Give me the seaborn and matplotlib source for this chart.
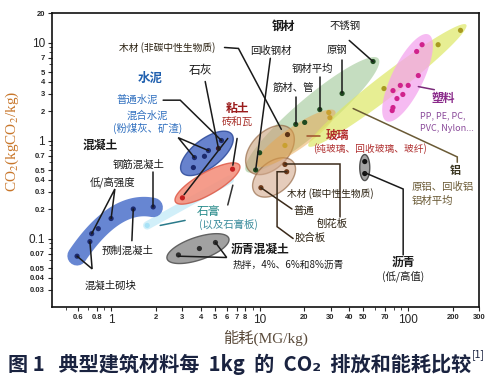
import numpy as np
import pandas as pd
import matplotlib
matplotlib.use('Agg')
import matplotlib.pyplot as plt
from matplotlib.ticker import NullFormatter
import seaborn as sns

# values: embodied energy (MJ/kg) and CO2 (kg/kg)
concrete_e = [0.59, 0.72, 0.74, 0.82, 1.0, 1.41, 1.92]
concrete_c = [0.066, 0.093, 0.112, 0.126, 0.16, 0.20, 0.21]
cement_e = [3.58, 3.64, 4.25, 4.52, 5.53]
cement_c = [0.53, 0.67, 0.69, 0.79, 1.0]
lime_e = [5.28]
lime_c = [0.83]
clay_e = [3.02, 6.57]
clay_c = [0.26, 0.51]
gypsum_e = [1.75, 6.3]
gypsum_c = [0.136, 0.40]
asph_conc_e = [2.84, 3.93, 5.04]
asph_conc_c = [0.068, 0.079, 0.091]
bitumen_e = [51, 51]
bitumen_c = [0.61, 0.46]
wood_ncn_e = [15.4]
wood_ncn_c = [1.15]
wood_cn_e = [14.8, 15.2, 10.2]
wood_cn_c = [0.57, 0.48, 0.33]
steel_e = [9.4, 10.0, 17.5, 20.1, 25.4, 35.9, 58.0]
steel_c = [0.50, 0.75, 1.46, 1.53, 2.07, 3.02, 6.4]
glass_e = [14.8, 29.2, 29.7]
glass_c = [0.89, 1.93, 1.71]
alu_e = [68.7, 159, 225]
alu_c = [3.39, 9.5, 13.3]
plastic_e = [124, 114, 117, 79, 88.5, 100, 92, 84, 79, 78]
plastic_c = [9.5, 8.1, 4.6, 3.23, 3.65, 3.65, 2.95, 2.68, 2.17, 2.02]

x_ticks = [0.6, 0.8, 1, 2, 3, 4, 5, 6, 7, 8, 10, 20, 30, 40, 50, 70, 100, 200, 300]
x_minor = [0.5, 0.7, 0.9, 9, 60, 80, 90]
y_ticks = [0.03, 0.04, 0.05, 0.07, 0.1, 0.2, 0.3, 0.4, 0.5, 0.7, 1, 2, 3, 4, 5, 7, 10, 20]
y_minor = [0.06, 0.08, 0.09, 0.6, 0.8, 0.9, 6, 8, 9]
big_labels = ['0.1', '1', '10', '100']

groups = {
    'concrete': (concrete_e, concrete_c, '#1c2a6e'),
    'cement': (cement_e, cement_c, '#1c2a6e'),
    'lime': (lime_e, lime_c, '#3a1c2c'),
    'clay': (clay_e, clay_c, '#c42020'),
    'gypsum': (gypsum_e[:1], gypsum_c[:1], '#a8e2f6'),
    'asph_conc': (asph_conc_e, asph_conc_c, '#2e2e2e'),
    'bitumen': (bitumen_e, bitumen_c, '#111111'),
    'wood_ncn': (wood_ncn_e, wood_ncn_c, '#5a3216'),
    'wood_cn': (wood_cn_e, wood_cn_c, '#6e3a1a'),
    'steel': (steel_e, steel_c, '#1f4a1f'),
    'glass': (glass_e, glass_c, '#c9a030'),
    'alu': (alu_e, alu_c, '#a89a20'),
    'plastic': (plastic_e, plastic_c, '#d0228c'),
}
rows = []
for g, (e, c, col) in groups.items():
    rows += [{'energy': a, 'co2': b, 'group': g} for a, b in zip(e, c)]
df = pd.DataFrame(rows)
palette = {g: v[2] for g, v in groups.items()}

sns.set_style('ticks')
plt.rcParams['font.family'] = ['Noto Sans CJK SC', 'DejaVu Sans']
plt.rcParams['mathtext.fontset'] = 'stix'

W, H = 4.98, 3.84
fig = plt.figure(figsize=(W, H), dpi=100)
pos = [0.1044, 0.2005, 0.8576, 0.7656]
ax = fig.add_axes(pos)
ax.set_xscale('log')
ax.set_yscale('log')
ax.set_xlim(0.4, 300)
ax.set_ylim(0.02, 20)

# pixels per decade, used to shape the regions in screen space
SX = pos[2] * W * 100 / np.log10(300 / 0.4)
SY = pos[3] * H * 100 / np.log10(20 / 0.02)


def blob(xs, ys, lo, hi, side, **kw):
    pts = np.column_stack([np.log10(xs) * SX, np.log10(ys) * SY])
    c = pts.mean(axis=0)
    d = pts - c
    if len(pts) > 1:
        _, vec = np.linalg.eigh(d.T @ d)
        e1 = vec[:, -1]
    else:
        e1 = np.array([1.0, 0.0])
    if e1[0] < -1e-9 or (abs(e1[0]) < 1e-9 and e1[1] < 0):
        e1 = -e1
    e2 = np.array([-e1[1], e1[0]])
    p1, p2 = d @ e1, d @ e2
    a0, a1 = p1.min() - lo, p1.max() + hi
    mid = c + e1 * (a0 + a1) / 2
    a, b = (a1 - a0) / 2, np.abs(p2).max() + side
    t = np.linspace(0, 2 * np.pi, 120)
    ring = mid + np.outer(a * np.cos(t), e1) + np.outer(b * np.sin(t), e2)
    ax.fill(10 ** (ring[:, 0] / SX), 10 ** (ring[:, 1] / SY), **kw)


# regions
blob(steel_e, steel_c, 8, 6, 12, color='#a7cc9e', alpha=0.65, lw=0, zorder=1)
blob(wood_ncn_e + steel_e[:2], wood_ncn_c + steel_c[:2], 5, 6, 13,
     fc='#c9a07a', ec='#8a5a34', alpha=0.6, lw=1, zorder=2)
blob(wood_cn_e, wood_cn_c, 8, 8, 12, fc='#d4aa8e', ec='#8a5a34', alpha=0.6, lw=1, zorder=2)
blob(glass_e, glass_c, 35, 6, 9, color='#e9a64c', alpha=0.5, lw=0, zorder=3)
blob(alu_e, alu_c, 95, 8, 10, color='#dde866', alpha=0.7, lw=0, zorder=3)
blob(plastic_e, plastic_c, 12, 12, 7, color='#f4a4ee', alpha=0.75, lw=0, zorder=4)
blob(cement_e + lime_e, cement_c + lime_c, 12, 12, 10, fc='#5674c8', ec='#33509e', alpha=0.9, lw=1, zorder=3)
blob(clay_e, clay_c, 8, 8, 11, fc='#f4917e', ec='#e0604e', alpha=0.9, lw=1, zorder=3)
blob(asph_conc_e, asph_conc_c, 12, 14, 11, fc='#9c9c9c', ec='#5c5c5c', alpha=0.95, lw=1, zorder=3)
blob(bitumen_e, bitumen_c, 7, 7, 5, fc='#a3a3a3', ec='#505050', lw=1, zorder=3)

# concrete band
lx, ly = np.log10(concrete_e), np.log10(concrete_c)
k = np.polyfit(lx, ly, 2)
bx = np.linspace(lx.min(), lx.max(), 60)
ax.plot(10 ** bx, 10 ** np.polyval(k, bx), color='#5a7ccf', lw=14, alpha=0.92,
        solid_capstyle='round', zorder=3)
# gypsum streak
ax.plot(gypsum_e, gypsum_c, color='#b3e5f6', lw=6, alpha=0.6, solid_capstyle='round', zorder=2)

sns.scatterplot(data=df, x='energy', y='co2', hue='group', palette=palette, s=14,
                linewidth=0, legend=False, ax=ax, zorder=6)


def lead(xs, ys, color='#1a1a1a', lw=1.1):
    ax.plot(xs, ys, color=color, lw=lw, zorder=7, solid_joinstyle='miter')


def lab(x, y, s, size=7.5, color='#1a1a1a', weight='normal', ha='center'):
    ax.text(x, y, s, fontsize=size, color=color, weight=weight, ha=ha, va='center', zorder=8)


# concrete
lab(0.84, 0.89, '混凝土', 8.5, weight='bold')
lab(1.52, 0.57, '钢筋混凝土')
lab(1.02, 0.38, '低/高强度')
lab(1.30, 0.0755, '预制混凝土')
lab(0.985, 0.0331, '混凝土砌块')
lead([1.92, 1.92], [0.48, 0.21])
lead([0.74, 1.06, 1.0], [0.112, 0.32, 0.16])
lead([1.41, 1.38], [0.2, 0.095])
lead([0.59, 0.745, 0.72], [0.066, 0.049, 0.093])
# cement / lime
lab(1.83, 4.29, '水泥', 9, '#1f5fae', 'bold')
lab(1.50, 2.62, '普通水泥', 7.5, '#2f6fbf')
lab(1.75, 1.80, '混合水泥', 7.5, '#2f6fbf')
lab(1.75, 1.33, '(粉煤灰、矿渣)', 7.5, '#2f6fbf')
lead([2.24, 2.92, 5.53], [2.58, 2.58, 1.0])
lead([3.64, 2.83, 4.52], [0.67, 1.07, 0.79])
lab(3.97, 5.18, '石灰', 8.5)
lead([4.3, 5.28], [4.0, 0.83])
# clay / gypsum
lab(7.05, 2.12, '粘土', 8.5, '#9b1c1c', 'bold')
lab(7.05, 1.56, '砖和瓦', 7.5, '#a8302a')
lead([7.05, 6.6], [1.05, 0.56])
lead([6.1, 3.1], [1.05, 0.28])
lab(4.5, 0.188, '石膏', 8.5, '#2a8c8c')
lab(6.13, 0.139, '(以及石膏板)', 7.5, '#3a8c9c')
lead([2.14, 3.15], [0.136, 0.153], '#2a7a8a')
lead([6.6, 6.1], [0.35, 0.22], '#333333')
# asphalt
lab(10.1, 0.077, '沥青混凝土', 8.5, weight='bold')
lab(15.6, 0.054, '热拌，4%、6%和8%沥青', 7)
lead([2.84, 6.0, 5.04], [0.066, 0.064, 0.091])
lab(92.5, 0.0569, '沥青', 8.5, weight='bold')
lab(92.5, 0.041, '(低/高值)', 7.5)
lead([51, 92.5, 92.5], [0.47, 0.32, 0.068])
# wood
lab(2.38, 8.9, '木材 (非碳中性生物质)', 7, '#2a2010')
lead([5.8, 7.2, 14.0], [8.9, 8.7, 1.3])
lab(29.9, 0.29, '木材 (碳中性生物质)', 7, '#2a2010')
lab(19.9, 0.193, '普通', 7.5, '#2a2010')
lab(30.8, 0.142, '刨花板', 7.5, '#2a2010')
lab(21.9, 0.102, '胶合板', 7.5, '#2a2010')
lead([10.2, 16.5], [0.33, 0.2], '#3a2a1a')
lead([14.8, 34.8, 34.8], [0.57, 0.57, 0.165], '#3a2a1a')
lead([15.2, 13.1, 13.1, 16.8], [0.48, 0.48, 0.132, 0.1], '#3a2a1a')
# steel
lab(14.4, 14.6, '钢材', 8.5, weight='bold')
lab(37.7, 14.6, '不锈钢')
lab(11.9, 8.3, '回收钢材')
lab(33.3, 8.3, '原钢')
lab(22.6, 5.43, '钢材平均')
lab(16.8, 3.47, '筋材、管')
lead([11.8, 9.4], [6.9, 0.5])
lead([40.1, 58.0], [10.5, 6.4])
lead([35.9, 35.9], [6.6, 3.02])
lead([25.4, 25.4], [4.5, 2.07])
lead([17.5, 17.5], [2.8, 1.46])
# glass
lab(33.3, 1.12, '玻璃', 8.5, '#b22a2a', 'bold')
lab(55.5, 0.83, '(纯玻璃、回收玻璃、玻纤)', 7, '#b03030')
lead([20.9, 25.5], [1.12, 1.12], '#a0502a')
# plastics
lab(172, 2.68, '塑料', 8.5, '#8a2a8a', 'bold')
lab(172, 1.80, 'PP, PE, PC,', 6.5, '#8a4a9a')
lab(183, 1.33, 'PVC, Nylon...', 6.5, '#8a4a9a')
lead([117, 150], [3.55, 3.3], '#7a2a7a')
# aluminium
lab(207, 0.49, '铝', 8, '#3a3520', 'bold')
lab(172, 0.34, '原铝、回收铝', 7.5, '#6a5a35')
lab(145, 0.244, '铝材平均', 7.5, '#6a5a35')
lead([42.6, 214, 214], [2.12, 0.68, 0.6], '#6a5a35')

# axes cosmetics
ax.set_xticks(x_ticks)
ax.set_xticks(x_minor, minor=True)
ax.set_xticklabels([f'{v:g}' for v in x_ticks])
ax.set_yticks(y_ticks)
ax.set_yticks(y_minor, minor=True)
ax.set_yticklabels([f'{v:g}' for v in y_ticks])
ax.xaxis.set_minor_formatter(NullFormatter())
ax.yaxis.set_minor_formatter(NullFormatter())
for t in ax.get_xticklabels() + ax.get_yticklabels():
    big = t.get_text() in big_labels
    t.set_fontsize(8.5 if big else 5.5)
    t.set_fontweight('normal' if big else 'bold')
    t.set_family(['Liberation Sans'])
ax.tick_params(which='major', length=3, width=0.8, pad=2)
ax.tick_params(which='minor', length=2, width=0.6)
for s in ax.spines.values():
    s.set_linewidth(1.2)
    s.set_color('#111111')

ax.set_xlabel('能耗(MG/kg)', fontsize=11, color='#5a4a3a',
              family=['Liberation Serif', 'Noto Sans CJK SC'], labelpad=3)
ax.set_ylabel('CO$_2$(kgCO$_2$/kg)', fontsize=11, color='#c8762a', family=['Liberation Serif'])
ax.yaxis.set_label_coords(-0.072, 0.565)

cap = fig.text(0.016, 0.052, '图 1   典型建筑材料每  1kg  的  CO₂  排放和能耗比较', fontsize=14.5,
               weight='bold', color='#1a2340', va='center', family=['Noto Sans CJK SC', 'DejaVu Sans'])
fig.canvas.draw()
bb = cap.get_window_extent()
fig.text(bb.x1 / (W * 100) + 0.002, 0.078, '[1]', fontsize=7.5, color='#1a2340', va='center')

fig.savefig('out.png', dpi=100)
